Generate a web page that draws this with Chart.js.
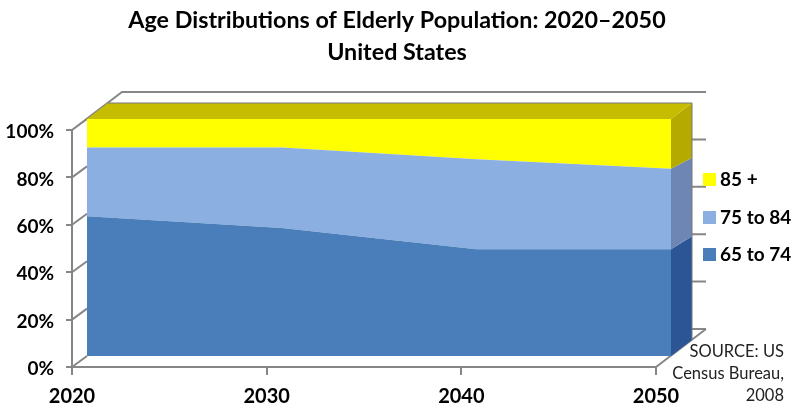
<!DOCTYPE html>
<html>
<head>
<meta charset="utf-8">
<style>
  html, body { margin: 0; padding: 0; background: #fff; }
  canvas { display: block; }
</style>
<script src="https://cdn.jsdelivr.net/npm/chart.js@4"></script>
</head>
<body>
<canvas id="ageChart" width="795" height="413"></canvas>
<script>
const years = ["2020", "2030", "2040", "2050"];
const age65to74 = [59, 54, 45, 45];
const age75to84 = [29, 34, 38, 34];
const age85plus = [12, 12, 17, 21];
const titleLines = ["Age Distributions of Elderly Population: 2020–2050", "United States"];
const sourceLines = ["SOURCE: US", "Census Bureau,", "2008"];
const yTicks = [0, 20, 40, 60, 80, 100];

const FONT = "Lato, 'Open Sans', sans-serif";
const AXIS = "#868686";
// areas sit a little behind the axis plane, walls further back
const DEPTH = { x: 15, y: -11 };
const BACK = { x: 50, y: -38 };
const SIDE_W = 21;
// how far each series boundary climbs across the side face, bottom to top
const sideRise = [16, 13, 11, 16];

// fake 3D: frame behind the areas, side and top faces around them
const frame3d = {
  id: "frame3d",
  beforeDatasetsDraw(chart) {
    const { ctx, scales: { x, y } } = chart;
    const left = x.left, right = x.right;
    const top = y.getPixelForValue(100), bottom = y.getPixelForValue(0);
    ctx.save();
    ctx.strokeStyle = AXIS;
    ctx.lineWidth = 2;
    ctx.beginPath();
    ctx.moveTo(left, top);
    ctx.lineTo(left + BACK.x, top + BACK.y);
    ctx.lineTo(right + BACK.x, top + BACK.y);
    ctx.moveTo(right, bottom);
    ctx.lineTo(right + BACK.x, bottom + BACK.y);
    yTicks.forEach((v) => {
      const py = y.getPixelForValue(v);
      ctx.moveTo(left, py);
      ctx.lineTo(left + DEPTH.x, py + DEPTH.y);
      if (v < 100) {
        ctx.moveTo(right + DEPTH.x + SIDE_W, py + BACK.y);
        ctx.lineTo(right + BACK.x, py + BACK.y);
      }
    });
    ctx.stroke();
    ctx.restore();

    ctx.save();
    ctx.translate(DEPTH.x, DEPTH.y);
  },
  afterDatasetsDraw(chart) {
    const { ctx, data, scales: { x, y } } = chart;
    ctx.restore();

    const fx = x.right + DEPTH.x;
    const bx = fx + SIDE_W;
    const lastIdx = years.length - 1;
    const faces = ["#2c5595", "#6d86b4", "#b5aa00"];
    let sum = 0;
    data.datasets.forEach((ds, i) => {
      const lo = sum;
      sum += ds.data[lastIdx];
      const yLo = y.getPixelForValue(lo) + DEPTH.y;
      const yHi = y.getPixelForValue(sum) + DEPTH.y;
      ctx.fillStyle = faces[i];
      ctx.beginPath();
      ctx.moveTo(fx, yLo);
      ctx.lineTo(fx, yHi);
      ctx.lineTo(bx, yHi - sideRise[i + 1]);
      ctx.lineTo(bx, yLo - sideRise[i]);
      ctx.closePath();
      ctx.fill();
    });

    const topY = y.getPixelForValue(100) + DEPTH.y;
    const floorY = y.getPixelForValue(0) + DEPTH.y;
    ctx.fillStyle = "#c6bc00";
    ctx.beginPath();
    ctx.moveTo(x.left + DEPTH.x, topY);
    ctx.lineTo(x.left + DEPTH.x + SIDE_W, topY - 16);
    ctx.lineTo(bx, topY - 16);
    ctx.lineTo(fx, topY);
    ctx.closePath();
    ctx.fill();
    ctx.strokeStyle = "#777";
    ctx.lineWidth = 1;
    ctx.beginPath();
    ctx.moveTo(x.left + DEPTH.x + SIDE_W, topY - 16);
    ctx.lineTo(bx, topY - 16);
    ctx.lineTo(bx, floorY - 16);
    ctx.stroke();
  },
  afterDraw(chart) {
    const { ctx, data } = chart;
    ctx.save();
    ctx.fillStyle = "#000";
    ctx.font = "bold 23.3px " + FONT;
    ctx.textAlign = "center";
    ctx.textBaseline = "middle";
    titleLines.forEach((line, i) => ctx.fillText(line, 397, 20 + i * 32));

    // legend, top series first
    const rows = [179, 217, 254];
    [...data.datasets].reverse().forEach((ds, i) => {
      ctx.fillStyle = ds.backgroundColor;
      ctx.fillRect(703, rows[i] - 6, 13, 13);
      ctx.fillStyle = "#000";
      ctx.font = "bold 19px " + FONT;
      ctx.textAlign = "left";
      ctx.fillText(ds.label, 720, rows[i] + 1);
    });

    ctx.fillStyle = "#222";
    ctx.font = "16.5px " + FONT;
    ctx.textAlign = "right";
    sourceLines.forEach((line, i) => ctx.fillText(line, 784, 352 + i * 22));
    ctx.restore();
  },
};

new Chart(document.getElementById("ageChart"), {
  type: "line",
  data: {
    labels: years,
    datasets: [
      { label: "65 to 74", data: age65to74, backgroundColor: "#4a7ebb", fill: "origin" },
      { label: "75 to 84", data: age75to84, backgroundColor: "#8aafe0", fill: "-1" },
      { label: "85 +", data: age85plus, backgroundColor: "#ffff00", fill: "-1" },
    ],
  },
  options: {
    responsive: false,
    animation: false,
    clip: false,
    layout: { padding: { left: 0, right: 139, top: 130, bottom: 0 } },
    elements: {
      line: { tension: 0, borderWidth: 0 },
      point: { radius: 0 },
    },
    plugins: {
      legend: { display: false },
      tooltip: { enabled: false },
    },
    scales: {
      x: {
        offset: false,
        afterFit(scale) { scale.height = 46; },
        grid: { drawOnChartArea: false, tickLength: 8, tickColor: AXIS, lineWidth: 2 },
        border: { color: AXIS, width: 2 },
        ticks: {
          color: "#000",
          maxRotation: 0,
          padding: 10,
          font: { family: FONT, size: 20, weight: "bold" },
        },
      },
      y: {
        stacked: true,
        min: 0,
        max: 100,
        afterFit(scale) { scale.width = 72; },
        grid: { drawOnChartArea: false, tickLength: 6, tickColor: AXIS, lineWidth: 2 },
        border: { color: AXIS, width: 2 },
        ticks: {
          stepSize: 20,
          color: "#000",
          padding: 12,
          labelOffset: 2,
          font: { family: FONT, size: 19, weight: "bold" },
          callback: (v) => v + "%",
        },
      },
    },
  },
  plugins: [frame3d],
});
</script>
</body>
</html>
